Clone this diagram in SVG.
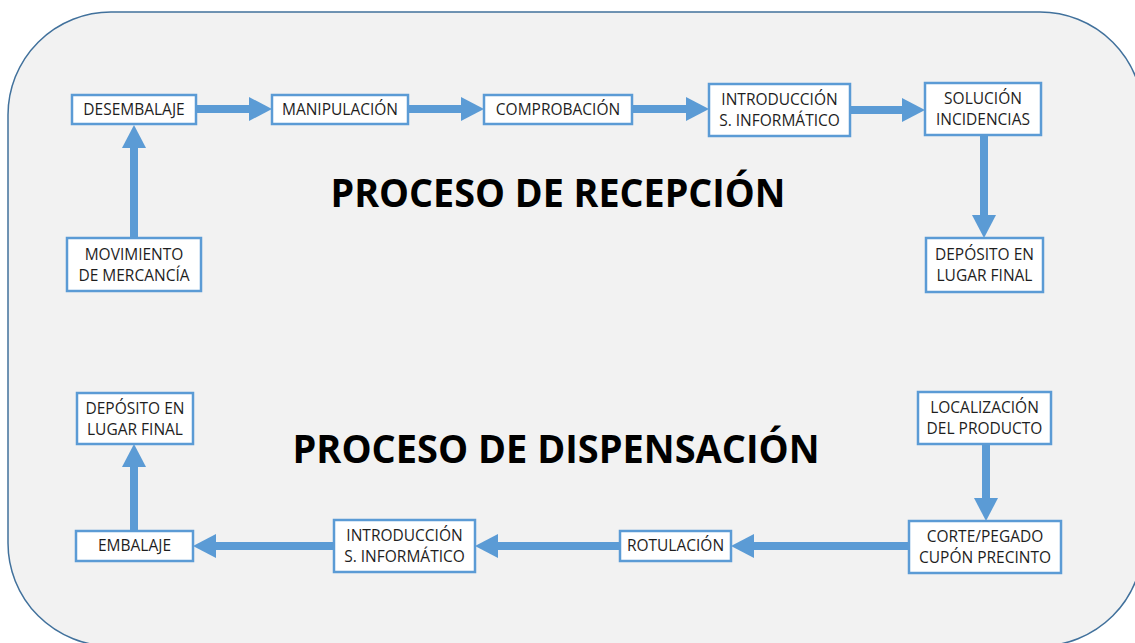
<svg xmlns="http://www.w3.org/2000/svg" width="1135" height="643" viewBox="0 0 1135 643">
  <style>
    .node rect { fill: #FFFFFF; stroke: #5B9BD5; stroke-width: 2.5; }
    .node text { font-family: "Open Sans", "Liberation Sans", sans-serif; font-size: 15.5px; fill: #1E1E1E; text-anchor: middle; }
    .title { font-family: "Open Sans", "Liberation Sans", sans-serif; font-weight: bold; font-size: 40px; fill: #000000; text-anchor: middle; }
    .conn { stroke: #5B9BD5; stroke-width: 8; fill: none; marker-end: url(#head); }
  </style>
  <defs>
    <marker id="head" markerUnits="userSpaceOnUse" markerWidth="23" markerHeight="24" viewBox="0 0 23 24" refX="0" refY="12" orient="auto">
      <path d="M0,0 L23,12 L0,24 Z" fill="#5B9BD5"/>
    </marker>
  </defs>

  <rect id="background" x="8" y="12" width="1135" height="634" rx="103" ry="103" fill="#F2F2F2" stroke="#41719C" stroke-width="1.5"/>

  <text class="title" x="558" y="207" textLength="455" lengthAdjust="spacingAndGlyphs">PROCESO DE RECEPCIÓN</text>
  <text class="title" x="556" y="463" textLength="527" lengthAdjust="spacingAndGlyphs">PROCESO DE DISPENSACIÓN</text>

  <g id="connectors">
    <line class="conn" x1="196" y1="109" x2="249" y2="109"/>
    <line class="conn" x1="408" y1="109" x2="461" y2="109"/>
    <line class="conn" x1="632" y1="109" x2="686" y2="109"/>
    <line class="conn" x1="850" y1="110" x2="902" y2="110"/>
    <line class="conn" x1="984" y1="135" x2="984" y2="215"/>
    <line class="conn" x1="134" y1="238" x2="134" y2="148"/>
    <line class="conn" x1="986" y1="444" x2="986" y2="498"/>
    <line class="conn" x1="909" y1="546" x2="754" y2="546"/>
    <line class="conn" x1="620" y1="546" x2="498" y2="546"/>
    <line class="conn" x1="334" y1="546" x2="216" y2="546"/>
    <line class="conn" x1="134" y1="531" x2="134" y2="467"/>
  </g>

  <g id="desembalaje" class="node">
    <rect x="72" y="95" width="124" height="29"/>
    <text x="134" y="115">DESEMBALAJE</text>
  </g>
  <g id="manipulacion" class="node">
    <rect x="272" y="95" width="136" height="29"/>
    <text x="340" y="115">MANIPULACIÓN</text>
  </g>
  <g id="comprobacion" class="node">
    <rect x="484" y="95" width="148" height="29"/>
    <text x="558" y="115">COMPROBACIÓN</text>
  </g>
  <g id="introduccion-recepcion" class="node">
    <rect x="709" y="84" width="141" height="52"/>
    <text x="779.5" y="105">INTRODUCCIÓN</text>
    <text x="779.5" y="126">S. INFORMÁTICO</text>
  </g>
  <g id="solucion-incidencias" class="node">
    <rect x="925" y="83" width="116" height="52"/>
    <text x="983" y="104">SOLUCIÓN</text>
    <text x="983" y="125">INCIDENCIAS</text>
  </g>
  <g id="deposito-recepcion" class="node">
    <rect x="926" y="238" width="117" height="54"/>
    <text x="984.5" y="260">DEPÓSITO EN</text>
    <text x="984.5" y="281">LUGAR FINAL</text>
  </g>
  <g id="movimiento-mercancia" class="node">
    <rect x="67" y="238" width="134" height="53"/>
    <text x="134" y="260">MOVIMIENTO</text>
    <text x="134" y="281">DE MERCANCÍA</text>
  </g>

  <g id="localizacion-producto" class="node">
    <rect x="918" y="392" width="133" height="52"/>
    <text x="984.5" y="413">LOCALIZACIÓN</text>
    <text x="984.5" y="434">DEL PRODUCTO</text>
  </g>
  <g id="corte-pegado" class="node">
    <rect x="909" y="521" width="152" height="52"/>
    <text x="985" y="542">CORTE/PEGADO</text>
    <text x="985" y="563">CUPÓN PRECINTO</text>
  </g>
  <g id="rotulacion" class="node">
    <rect x="620" y="531" width="111" height="30"/>
    <text x="675.5" y="551">ROTULACIÓN</text>
  </g>
  <g id="introduccion-dispensacion" class="node">
    <rect x="334" y="520" width="141" height="52"/>
    <text x="404.5" y="541">INTRODUCCIÓN</text>
    <text x="404.5" y="562">S. INFORMÁTICO</text>
  </g>
  <g id="embalaje" class="node">
    <rect x="76" y="531" width="117" height="30"/>
    <text x="134.5" y="551">EMBALAJE</text>
  </g>
  <g id="deposito-dispensacion" class="node">
    <rect x="77" y="393" width="116" height="51"/>
    <text x="135" y="414">DEPÓSITO EN</text>
    <text x="135" y="435">LUGAR FINAL</text>
  </g>
</svg>
